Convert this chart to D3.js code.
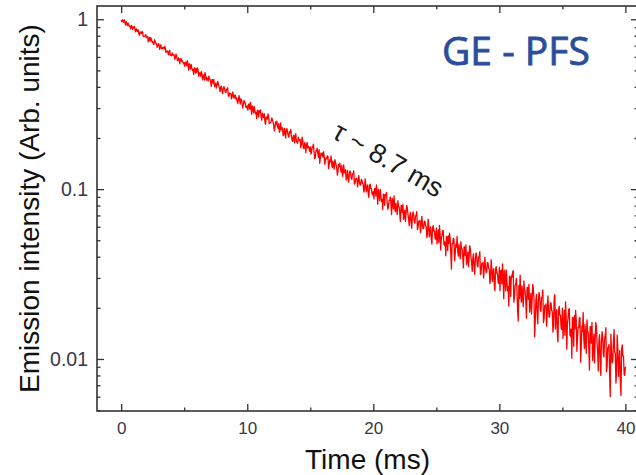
<!DOCTYPE html>
<html>
<head>
<meta charset="utf-8">
<script src="https://cdn.jsdelivr.net/npm/d3@7"></script>
<style>
  html, body { margin: 0; padding: 0; background: #ffffff; }
  svg { display: block; }
</style>
</head>
<body>
<div id="chart"></div>
<script>
// ---------------- data ----------------
const sampleStepMs = 0.05;             // acquisition step of the decay trace (0 … 40 ms)
const intensity = [
  0.991, 0.965, 0.995, 0.988, 0.958, 0.991, 0.962, 0.925, 0.968, 0.947, 0.918, 0.950, 0.927, 0.907, 0.908, 0.878, 0.919, 0.909, 0.872, 0.902,
  0.891, 0.906, 0.859, 0.843, 0.879, 0.862, 0.848, 0.867, 0.820, 0.807, 0.842, 0.837, 0.824, 0.849, 0.836, 0.794, 0.794, 0.794, 0.799, 0.813,
  0.779, 0.789, 0.793, 0.736, 0.770, 0.781, 0.743, 0.780, 0.760, 0.734, 0.739, 0.713, 0.710, 0.758, 0.736, 0.722, 0.721, 0.684, 0.696, 0.718,
  0.713, 0.665, 0.686, 0.708, 0.670, 0.672, 0.681, 0.685, 0.667, 0.693, 0.676, 0.639, 0.642, 0.652, 0.641, 0.618, 0.647, 0.657, 0.614, 0.617,
  0.609, 0.633, 0.620, 0.615, 0.618, 0.581, 0.593, 0.624, 0.607, 0.574, 0.570, 0.593, 0.583, 0.548, 0.580, 0.588, 0.563, 0.569, 0.562, 0.545,
  0.554, 0.528, 0.560, 0.560, 0.533, 0.570, 0.539, 0.502, 0.547, 0.533, 0.508, 0.542, 0.519, 0.500, 0.506, 0.474, 0.518, 0.514, 0.482, 0.513,
  0.487, 0.517, 0.503, 0.462, 0.484, 0.483, 0.462, 0.492, 0.480, 0.440, 0.463, 0.471, 0.439, 0.486, 0.466, 0.438, 0.454, 0.442, 0.433, 0.463,
  0.445, 0.443, 0.424, 0.403, 0.441, 0.441, 0.421, 0.442, 0.402, 0.408, 0.421, 0.393, 0.410, 0.431, 0.421, 0.404, 0.392, 0.375, 0.399, 0.404,
  0.379, 0.365, 0.390, 0.401, 0.392, 0.373, 0.370, 0.386, 0.385, 0.395, 0.353, 0.353, 0.367, 0.365, 0.366, 0.340, 0.352, 0.373, 0.354, 0.342,
  0.358, 0.358, 0.340, 0.345, 0.330, 0.319, 0.341, 0.355, 0.332, 0.317, 0.341, 0.334, 0.317, 0.300, 0.318, 0.333, 0.324, 0.319, 0.302, 0.302,
  0.309, 0.292, 0.316, 0.316, 0.296, 0.324, 0.302, 0.276, 0.309, 0.299, 0.281, 0.307, 0.291, 0.278, 0.282, 0.260, 0.292, 0.289, 0.266, 0.290,
  0.281, 0.293, 0.265, 0.255, 0.280, 0.271, 0.264, 0.278, 0.249, 0.241, 0.266, 0.265, 0.258, 0.277, 0.268, 0.243, 0.245, 0.246, 0.251, 0.263,
  0.255, 0.248, 0.239, 0.220, 0.231, 0.249, 0.241, 0.251, 0.234, 0.227, 0.243, 0.216, 0.222, 0.245, 0.224, 0.226, 0.230, 0.206, 0.210, 0.228,
  0.215, 0.200, 0.225, 0.227, 0.215, 0.208, 0.202, 0.218, 0.214, 0.225, 0.205, 0.195, 0.191, 0.205, 0.208, 0.187, 0.202, 0.212, 0.190, 0.190,
  0.186, 0.202, 0.195, 0.193, 0.196, 0.175, 0.183, 0.202, 0.194, 0.175, 0.173, 0.188, 0.183, 0.164, 0.183, 0.188, 0.175, 0.179, 0.176, 0.167,
  0.177, 0.161, 0.165, 0.178, 0.177, 0.184, 0.165, 0.151, 0.154, 0.168, 0.168, 0.174, 0.162, 0.154, 0.171, 0.142, 0.153, 0.163, 0.158, 0.163,
  0.154, 0.166, 0.158, 0.140, 0.147, 0.152, 0.151, 0.157, 0.156, 0.132, 0.139, 0.149, 0.145, 0.157, 0.140, 0.134, 0.146, 0.137, 0.131, 0.149,
  0.144, 0.139, 0.133, 0.121, 0.128, 0.140, 0.136, 0.142, 0.131, 0.126, 0.138, 0.119, 0.123, 0.139, 0.125, 0.127, 0.130, 0.113, 0.116, 0.129,
  0.116, 0.110, 0.123, 0.128, 0.125, 0.116, 0.114, 0.123, 0.123, 0.128, 0.107, 0.108, 0.115, 0.115, 0.116, 0.103, 0.109, 0.120, 0.111, 0.106,
  0.106, 0.114, 0.113, 0.108, 0.107, 0.0961, 0.0996, 0.115, 0.107, 0.0964, 0.102, 0.106, 0.0936, 0.0893, 0.105, 0.107, 0.101, 0.101, 0.0938, 0.0924,
  0.0966, 0.0876, 0.101, 0.101, 0.0911, 0.106, 0.0953, 0.0815, 0.0999, 0.0947, 0.0854, 0.0996, 0.0914, 0.0847, 0.0871, 0.0758, 0.0935, 0.0923, 0.0803, 0.0932,
  0.0920, 0.0958, 0.0832, 0.0761, 0.0787, 0.0853, 0.0859, 0.0899, 0.0821, 0.0708, 0.0885, 0.0843, 0.0763, 0.0911, 0.0782, 0.0736, 0.0828, 0.0762, 0.0709, 0.0855,
  0.0792, 0.0786, 0.0719, 0.0644, 0.0799, 0.0800, 0.0729, 0.0815, 0.0664, 0.0694, 0.0752, 0.0646, 0.0718, 0.0803, 0.0774, 0.0709, 0.0668, 0.0609, 0.0703, 0.0730,
  0.0633, 0.0588, 0.0692, 0.0735, 0.0707, 0.0639, 0.0630, 0.0697, 0.0700, 0.0738, 0.0579, 0.0590, 0.0648, 0.0645, 0.0654, 0.0555, 0.0607, 0.0692, 0.0622, 0.0583,
  0.0589, 0.0648, 0.0645, 0.0609, 0.0600, 0.0518, 0.0544, 0.0665, 0.0606, 0.0524, 0.0568, 0.0599, 0.0506, 0.0475, 0.0594, 0.0610, 0.0567, 0.0567, 0.0515, 0.0507,
  0.0589, 0.0477, 0.0520, 0.0576, 0.0485, 0.0612, 0.0544, 0.0438, 0.0515, 0.0534, 0.0569, 0.0570, 0.0472, 0.0466, 0.0489, 0.0405, 0.0527, 0.0523, 0.0434, 0.0530,
  0.0480, 0.0550, 0.0508, 0.0413, 0.0338, 0.0479, 0.0477, 0.0513, 0.0507, 0.0379, 0.0416, 0.0475, 0.0456, 0.0526, 0.0430, 0.0403, 0.0472, 0.0423, 0.0389, 0.0490,
  0.0447, 0.0444, 0.0396, 0.0344, 0.0456, 0.0457, 0.0406, 0.0469, 0.0361, 0.0383, 0.0426, 0.0350, 0.0403, 0.0464, 0.0444, 0.0397, 0.0369, 0.0328, 0.0395, 0.0415,
  0.0347, 0.0315, 0.0391, 0.0421, 0.0402, 0.0354, 0.0348, 0.0397, 0.0400, 0.0428, 0.0314, 0.0322, 0.0365, 0.0363, 0.0370, 0.0300, 0.0338, 0.0398, 0.0349, 0.0322,
  0.0327, 0.0370, 0.0368, 0.0342, 0.0337, 0.0278, 0.0298, 0.0384, 0.0344, 0.0286, 0.0317, 0.0340, 0.0273, 0.0252, 0.0337, 0.0350, 0.0320, 0.0320, 0.0283, 0.0278,
  0.0347, 0.0252, 0.0329, 0.0333, 0.0276, 0.0363, 0.0303, 0.0226, 0.0333, 0.0304, 0.0252, 0.0334, 0.0289, 0.0252, 0.0267, 0.0205, 0.0307, 0.0301, 0.0233, 0.0308,
  0.0303, 0.0325, 0.0331, 0.0216, 0.0231, 0.0270, 0.0276, 0.0298, 0.0256, 0.0193, 0.0167, 0.0271, 0.0227, 0.0312, 0.0241, 0.0216, 0.0269, 0.0233, 0.0203, 0.0288,
  0.0255, 0.0252, 0.0215, 0.0174, 0.0263, 0.0264, 0.0225, 0.0275, 0.0189, 0.0209, 0.0243, 0.0184, 0.0226, 0.0275, 0.0260, 0.0223, 0.0135, 0.0168, 0.0223, 0.0240,
  0.0185, 0.0161, 0.0222, 0.0247, 0.0232, 0.0195, 0.0190, 0.0230, 0.0232, 0.0255, 0.0164, 0.0172, 0.0207, 0.0205, 0.0211, 0.0156, 0.0186, 0.0235, 0.0197, 0.0176,
  0.0179, 0.0214, 0.0214, 0.0193, 0.0190, 0.0144, 0.0159, 0.0228, 0.0239, 0.0150, 0.0176, 0.0195, 0.0142, 0.0126, 0.0194, 0.0204, 0.0181, 0.0181, 0.0152, 0.0149,
  0.0199, 0.0132, 0.0158, 0.0193, 0.0138, 0.0217, 0.0178, 0.0114, 0.0161, 0.0173, 0.0196, 0.0198, 0.0138, 0.0136, 0.0150, 0.0101, 0.0176, 0.0174, 0.0119, 0.0180,
  0.0150, 0.0193, 0.0169, 0.0111, 0.0134, 0.0154, 0.0153, 0.0175, 0.0174, 0.0096, 0.0119, 0.0156, 0.0145, 0.0188, 0.0131, 0.0115, 0.0159, 0.0129, 0.0108, 0.0170,
  0.0146, 0.0144, 0.0115, 0.0086, 0.0155, 0.0155, 0.0124, 0.0164, 0.0098, 0.0113, 0.0140, 0.0095, 0.0127, 0.0164, 0.0155, 0.0126, 0.0109, 0.0085, 0.0128, 0.0139,
  0.0098, 0.0080, 0.0126, 0.0145, 0.0135, 0.0107, 0.0103, 0.0132, 0.0137, 0.0153, 0.0084, 0.0091, 0.0117, 0.0116, 0.0122, 0.0080, 0.0060, 0.0140, 0.0111, 0.0095,
  0.0098, 0.0125, 0.0149, 0.0110, 0.0108, 0.0072, 0.0084, 0.0138, 0.0114, 0.0079, 0.0098, 0.0112, 0.0072, 0.0061, 0.0114, 0.0121, 0.0104, 0.0104, 0.0081, 0.0080,
  0.0090
];
const xMajorTicks = [0, 10, 20, 30, 40];
const xMinorTicks = [5, 15, 25, 35];
const yMajorTicks = [0.01, 0.1, 1];
const yMajorLabels = ["0.01", "0.1", "1"];
const yMinorTicks = [0.005, 0.006, 0.007, 0.008, 0.009,
                     0.02, 0.03, 0.04, 0.05, 0.06, 0.07, 0.08, 0.09,
                     0.2, 0.3, 0.4, 0.5, 0.6, 0.7, 0.8, 0.9];
const xTitle = "Time (ms)";
const yTitle = "Emission intensity (Arb. units)";
const sampleName = "GE - PFS";
const lifetimeNote = "\u03C4 ~ 8.7 ms";

// ---------------- layout ----------------
const W = 636, H = 475;
const pL = 97, pR = 638, pT = 6, pB = 411;

const svg = d3.select("#chart").append("svg")
  .attr("width", W).attr("height", H);

const x = d3.scaleLinear().domain([-1.92, 41]).range([pL, pR]);
const y = d3.scaleLog().domain([0.00494, 1.197]).range([pB, pT]);

const tickColor = "#333";
const labelColor = "#3a3646";
const font = "'Liberation Sans', Arial, sans-serif";

function styleAxis(g, fontSize) {
  g.select(".domain").remove();
  g.selectAll(".tick line").attr("stroke", tickColor).attr("stroke-width", 1.3);
  g.selectAll(".tick text").attr("fill", labelColor)
    .style("font-family", font).style("font-size", fontSize + "px");
}

// bottom axis (majors with labels)
svg.append("g").attr("transform", `translate(0,${pB})`)
  .call(d3.axisBottom(x).tickValues(xMajorTicks).tickSize(-7).tickSizeOuter(0)
        .tickPadding(11).tickFormat(d3.format("d")))
  .call(g => styleAxis(g, 17));
svg.append("g").attr("transform", `translate(0,${pB})`)
  .call(d3.axisBottom(x).tickValues(xMinorTicks).tickSize(-3.5).tickSizeOuter(0).tickFormat(""))
  .call(g => styleAxis(g, 17));
// top axis
svg.append("g").attr("transform", `translate(0,${pT})`)
  .call(d3.axisTop(x).tickValues(xMajorTicks).tickSize(-7).tickSizeOuter(0).tickFormat(""))
  .call(g => styleAxis(g, 17));
svg.append("g").attr("transform", `translate(0,${pT})`)
  .call(d3.axisTop(x).tickValues(xMinorTicks).tickSize(-3.5).tickSizeOuter(0).tickFormat(""))
  .call(g => styleAxis(g, 17));
// left axis
svg.append("g").attr("transform", `translate(${pL},0)`)
  .call(d3.axisLeft(y).tickValues(yMajorTicks).tickSize(-7).tickSizeOuter(0)
        .tickPadding(9).tickFormat((d, i) => yMajorLabels[i]))
  .call(g => styleAxis(g, 19.5));
svg.append("g").attr("transform", `translate(${pL},0)`)
  .call(d3.axisLeft(y).tickValues(yMinorTicks).tickSize(-3.5).tickSizeOuter(0).tickFormat(""))
  .call(g => styleAxis(g, 19.5));
// right axis
svg.append("g").attr("transform", `translate(${pR},0)`)
  .call(d3.axisRight(y).tickValues(yMajorTicks).tickSize(-7).tickSizeOuter(0).tickFormat(""))
  .call(g => styleAxis(g, 19.5));
svg.append("g").attr("transform", `translate(${pR},0)`)
  .call(d3.axisRight(y).tickValues(yMinorTicks).tickSize(-3.5).tickSizeOuter(0).tickFormat(""))
  .call(g => styleAxis(g, 19.5));

// frame
svg.append("rect")
  .attr("x", pL).attr("y", pT)
  .attr("width", pR - pL).attr("height", pB - pT)
  .attr("fill", "none").attr("stroke", tickColor).attr("stroke-width", 1.6);

// decay trace
const line = d3.line()
  .x((d, i) => x(i * sampleStepMs))
  .y(d => y(d));
svg.append("path")
  .datum(intensity)
  .attr("d", line)
  .attr("fill", "none")
  .attr("stroke", "#ff0000")
  .attr("stroke-width", 1.3)
  .attr("stroke-linejoin", "round");

// axis titles
svg.append("text")
  .attr("x", (pL + pR) / 2).attr("y", 468.5)
  .attr("text-anchor", "middle")
  .style("font-family", font).style("font-size", "28px")
  .attr("fill", "#111")
  .text(xTitle);

svg.append("text")
  .attr("transform", `translate(38.5,${(pT + pB) / 2}) rotate(-90)`)
  .attr("text-anchor", "middle")
  .style("font-family", font).style("font-size", "28px")
  .attr("fill", "#111")
  .text(yTitle);

// sample name
svg.append("text")
  .attr("x", 442).attr("y", 65)
  .style("font-family", "'Open Sans', 'Noto Sans', sans-serif")
  .style("font-size", "39px")
  .attr("fill", "#2a4d9b")
  .attr("stroke", "#2a4d9b")
  .attr("stroke-width", 0.8)
  .text(sampleName);

// lifetime annotation
svg.append("text")
  .attr("transform", "translate(388.5,159.5) rotate(30)")
  .attr("text-anchor", "middle")
  .attr("dy", "0.35em")
  .style("font-family", font).style("font-size", "27px")
  .attr("fill", "#1a1a1a")
  .text(lifetimeNote);
</script>
</body>
</html>
